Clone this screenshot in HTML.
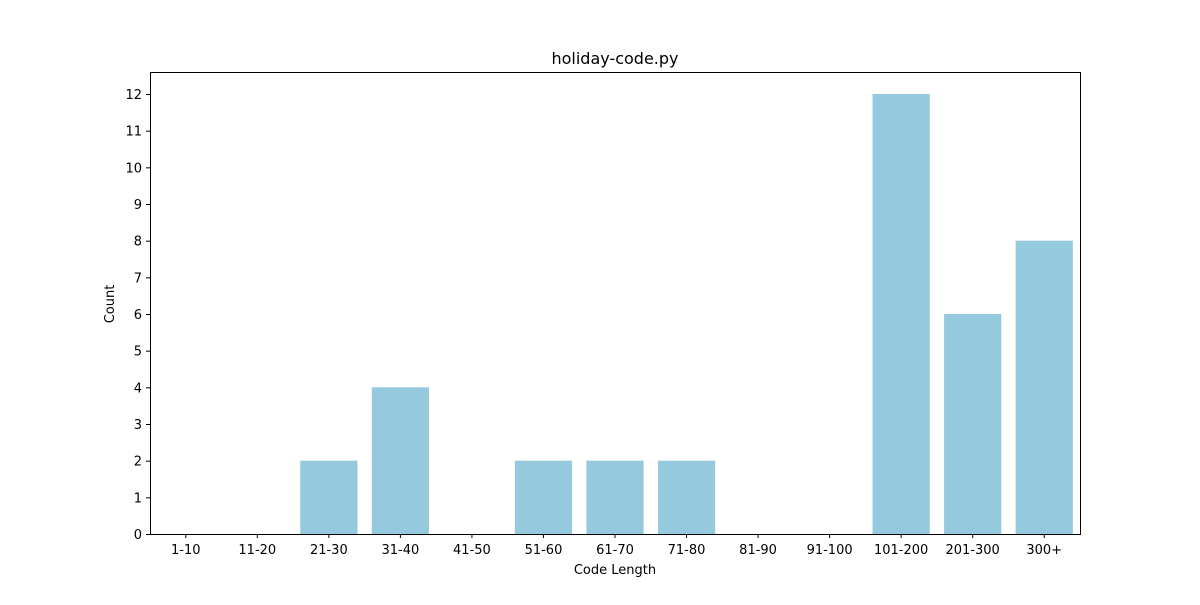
<!DOCTYPE html>
<html><head><meta charset="utf-8"><style>
body{margin:0;background:#fff;}
svg text{font-family:"DejaVu Sans","Liberation Sans",sans-serif;fill:#000;}
</style></head><body>
<svg id="chart" width="1200" height="600">
<text x="615" y="64" font-size="16" text-anchor="middle">holiday-code.py</text>
<g id="bars"></g>
<g id="axes"></g>
<rect x="150.5" y="72.5" width="930" height="462" fill="none" stroke="#000" stroke-width="1"/>
<text x="615" y="574" font-size="13" text-anchor="middle">Code Length</text>
<text x="0" y="0" font-size="13" text-anchor="middle" transform="translate(114,304) rotate(-90)">Count</text>
</svg>
<script>
const categories=["1-10","11-20","21-30","31-40","41-50","51-60","61-70","71-80","81-90","91-100","101-200","201-300","300+"];
const counts=[0,0,2,4,0,2,2,2,0,0,12,6,8];
const yTicks=[0,1,2,3,4,5,6,7,8,9,10,11,12];
const NS="http://www.w3.org/2000/svg";
const L=150,R=1080,T=72,B=534,YMAX=12.6;
const band=(R-L)/categories.length;
const x=i=>L+band*(i+0.5);
const y=v=>B-(v/YMAX)*(B-T);
const bars=document.getElementById('bars'),axes=document.getElementById('axes');
function mk(tag,attrs,parent){const e=document.createElementNS(NS,tag);for(const k in attrs)e.setAttribute(k,attrs[k]);parent.appendChild(e);return e;}
categories.forEach((c,i)=>{
  const v=counts[i];
  const r=mk('rect',{x:x(i)-band*0.4,y:y(v),width:band*0.8,height:B-y(v),fill:'#95c9dd'},bars);
  
  
  const t=mk('line',{x1:x(i),x2:x(i),y1:B,y2:B+4,stroke:'#000'},axes);
  
  
  const lb=mk('text',{x:x(i),y:B+20,'font-size':13,'text-anchor':'middle'},axes);
  lb.textContent=c;
  
  
});
yTicks.forEach(v=>{
  const t=mk('line',{x1:L-4,x2:L,y1:y(v)+0.5,y2:y(v)+0.5,stroke:'#000'},axes);
  
  
  const lb=mk('text',{x:L-8,y:y(v)+5,'font-size':13,'text-anchor':'end'},axes);
  lb.textContent=v;
  
  
});
</script>
</body></html>
